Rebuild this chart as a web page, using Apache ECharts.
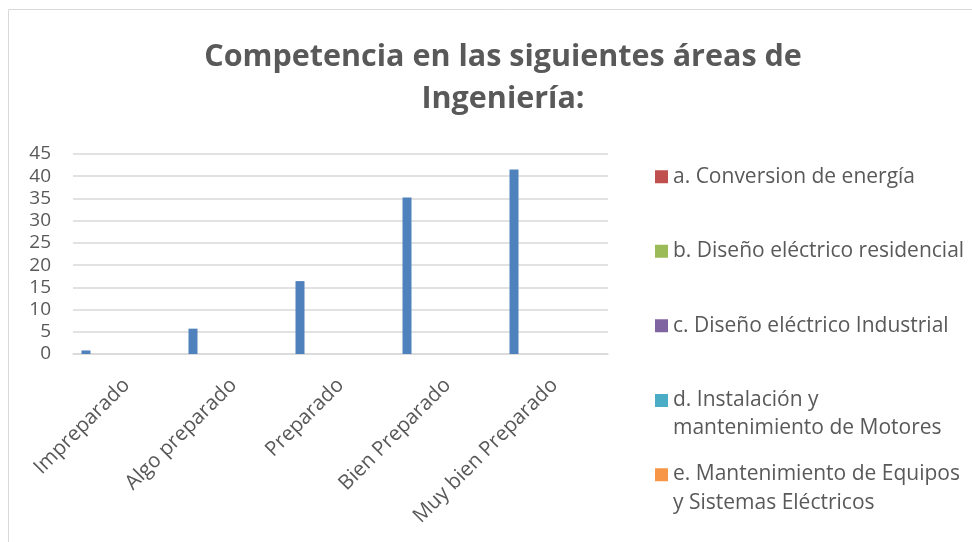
<!DOCTYPE html>
<html>
<head>
<meta charset="utf-8">
<script src="https://cdn.jsdelivr.net/npm/echarts@6/dist/echarts.min.js"></script>
<style>
html,body{margin:0;padding:0;background:#fff;overflow:hidden;}
#chart{width:1006px;height:542px;}
</style>
</head>
<body>
<div id="chart"></div>
<script>
// categorias del eje x
var categorias = ['Impreparado', 'Algo preparado', 'Preparado', 'Bien Preparado', 'Muy bien Preparado'];
var yTicks = [0, 5, 10, 15, 20, 25, 30, 35, 40, 45];

// valores por serie
var serieTotal = [0.8, 5.7, 16.4, 35.2, 41.5];
var serieA = [0, 0, 0, 0, 0];
var serieB = [0, 0, 0, 0, 0];
var serieC = [0, 0, 0, 0, 0];
var serieD = [0, 0, 0, 0, 0];
var serieE = [0, 0, 0, 0, 0];

var nombres = [
  'a. Conversion de energía',
  'b. Diseño eléctrico residencial',
  'c. Diseño eléctrico Industrial',
  'd. Instalación y mantenimiento de Motores',
  'e. Mantenimiento de Equipos y Sistemas Eléctricos'
];
var etiquetasLeyenda = {
  'd. Instalación y mantenimiento de Motores': 'd. Instalación y\nmantenimiento de Motores',
  'e. Mantenimiento de Equipos y Sistemas Eléctricos': 'e. Mantenimiento de Equipos\ny Sistemas Eléctricos'
};

var colores = ['#4F81BD', '#C0504D', '#9BBB59', '#8064A2', '#4BACC6', '#F79646'];
var fuente = 'Open Sans';
var gris = '#595959';

// el grafico original es mas ancho que la imagen (recortado a la derecha)
var myChart = echarts.init(document.getElementById('chart'));

function barra(name, data, color) {
  return {
    name: name,
    type: 'bar',
    data: data,
    barWidth: 9,
    barGap: '80%',
    itemStyle: { color: color },
    emphasis: { disabled: true }
  };
}

// icon: cuadro arriba para que quede en la primera linea del texto
function leyenda(items, top, gap, alto, icono) {
  return {
    orient: 'vertical',
    left: 650,
    top: top,
    itemGap: gap,
    itemWidth: 13,
    itemHeight: alto,
    icon: icono,
    data: items,
    formatter: function (n) { return etiquetasLeyenda[n] || n; },
    textStyle: { fontFamily: fuente, fontSize: 21, color: gris, lineHeight: 28.5 }
  };
}

var opt = {
  animation: false,
  textStyle: { fontFamily: fuente },
  title: {
    text: 'Competencia en las siguientes áreas de\nIngeniería:',
    left: 'center',
    top: 31,
    textStyle: { fontFamily: fuente, fontSize: 30.5, fontWeight: 'bold', color: gris, lineHeight: 42 }
  },
  graphic: [{
    type: 'rect',
    shape: { x: 8.5, y: 9.5, width: 1100, height: 600 },
    style: { fill: 'none', stroke: '#D9D9D9', lineWidth: 1 },
    silent: true
  }],
  legend: [
    leyenda(nombres.slice(0, 3), 157.5, 46, 13, 'rect'),
    leyenda(nombres.slice(3), 380.4, 17.4, 40, 'path://M0,0h13v13H0z M0,40h0.01v0.01H0z')
  ],
  grid: { left: 73, right: 398, top: 154, bottom: 188, containLabel: false },
  xAxis: {
    type: 'category',
    data: categorias,
    axisLine: { lineStyle: { color: '#D9D9D9', width: 1.5 } },
    axisTick: { show: false },
    axisLabel: { rotate: 45, interval: 0, fontFamily: fuente, fontSize: 20.5, color: gris, margin: 28 }
  },
  yAxis: {
    type: 'value',
    min: yTicks[0],
    max: yTicks[yTicks.length - 1],
    interval: 5,
    axisLine: { show: false },
    axisTick: { show: false },
    splitLine: { lineStyle: { color: '#D9D9D9', width: 1.5 } },
    axisLabel: { fontFamily: fuente, fontSize: 19, color: gris, margin: 22 }
  },
  series: [
    barra('Total', serieTotal, colores[0]),
    barra(nombres[0], serieA, colores[1]),
    barra(nombres[1], serieB, colores[2]),
    barra(nombres[2], serieC, colores[3]),
    barra(nombres[3], serieD, colores[4]),
    barra(nombres[4], serieE, colores[5])
  ]
};

myChart.setOption(opt);
</script>
</body>
</html>
